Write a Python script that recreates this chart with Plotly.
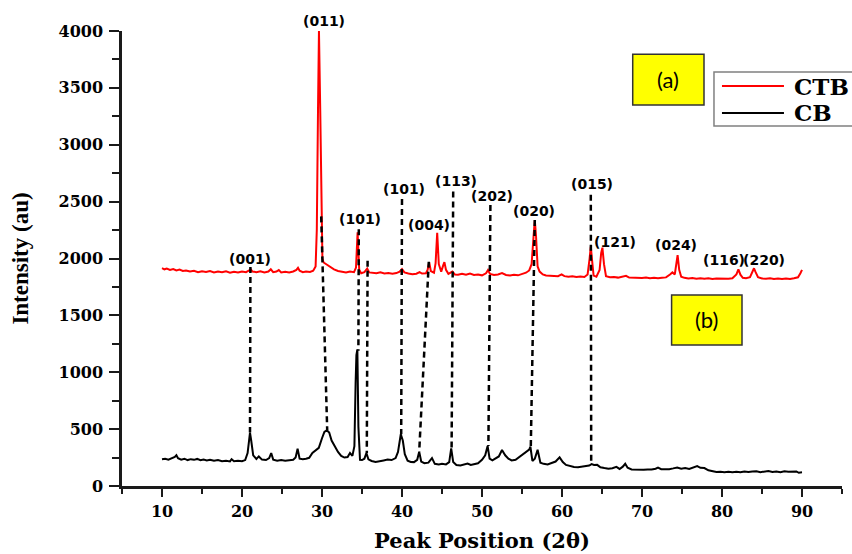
import plotly.graph_objects as go

# ---------------- data ----------------
ctb_x = [10.0, 10.3, 10.6, 11.0, 11.4, 11.8, 12.2, 12.6, 13.0, 13.5, 14.0, 14.5, 15.0, 15.5, 16.0, 16.5,
         17.0, 17.5, 18.0, 18.5, 19.0, 19.5, 20.0, 20.5, 20.9, 21.1, 21.3, 21.8, 22.3, 22.8, 23.3, 23.6,
         23.9, 24.3, 24.6, 24.9, 25.4, 25.9, 26.4, 26.8, 27.0, 27.2, 27.6, 28.0, 28.5, 28.9, 29.2, 29.35,
         29.5, 29.62, 29.78, 29.92, 30.05, 30.2, 30.5, 31.0, 31.5, 32.0, 32.5, 33.0, 33.5, 34.0, 34.25, 34.45,
         34.65, 34.9, 35.3, 35.65, 35.9, 36.3, 36.8, 37.3, 37.8, 38.3, 38.8, 39.3, 39.7, 40.0, 40.3, 40.8,
         41.3, 41.8, 42.2, 42.5, 43.0, 43.2, 43.4, 43.6, 44.0, 44.2, 44.4, 44.6, 44.9, 45.15, 45.3, 45.5,
         45.8, 46.3, 46.6, 47.0, 47.5, 48.0, 48.5, 49.0, 49.5, 50.0, 50.5, 50.75, 51.0, 51.5, 52.0, 52.5,
         53.0, 53.5, 54.0, 54.5, 55.0, 55.5, 55.9, 56.2, 56.45, 56.6, 56.75, 56.95, 57.2, 57.6, 58.0, 58.5,
         59.0, 59.5, 59.95, 60.3, 60.8, 61.3, 61.8, 62.3, 62.8, 63.2, 63.45, 63.6, 63.75, 63.95, 64.3, 64.7,
         64.9, 65.05, 65.25, 65.5, 66.0, 66.5, 67.0, 67.5, 68.0, 68.4, 69.0, 69.5, 70.0, 70.5, 71.0, 71.5,
         72.0, 72.5, 73.0, 73.5, 73.8, 74.1, 74.3, 74.45, 74.65, 74.9, 75.3, 75.8, 76.3, 76.8, 77.3, 77.8,
         78.3, 78.8, 79.3, 79.8, 80.3, 80.8, 81.3, 81.8, 82.05, 82.3, 82.6, 83.0, 83.5, 83.8, 84.0, 84.2,
         84.5, 85.0, 85.5, 86.0, 86.5, 87.0, 87.5, 88.0, 88.5, 89.0, 89.5, 89.8, 90.0]
ctb_y = [1915, 1905, 1912, 1900, 1908, 1895, 1902, 1890, 1895, 1885, 1892, 1880, 1888, 1882, 1890, 1878,
         1885, 1880, 1887, 1876, 1884, 1878, 1886, 1880, 1895, 1905, 1885, 1880, 1888, 1878, 1885, 1905,
         1880, 1885, 1898, 1878, 1884, 1878, 1886, 1900, 1918, 1892, 1880, 1886, 1882, 1892, 1930, 2250,
         3300, 4000, 3300, 2300, 2000, 1965, 1950, 1925, 1905, 1890, 1882, 1878, 1885, 1880, 1920, 2230,
         1900, 1870, 1880, 1912, 1878, 1875, 1870, 1878, 1868, 1872, 1866, 1872, 1885, 1908, 1878, 1868,
         1862, 1866, 1880, 1868, 1870, 1900, 1968, 1890, 1875, 1960, 2225, 1950, 1885, 1940, 1968, 1900,
         1865, 1885, 1860, 1858, 1865, 1857, 1868, 1856, 1860, 1852, 1870, 1898, 1865, 1855, 1860, 1872,
         1855, 1850, 1856, 1852, 1862, 1875, 1895, 1950, 2200, 2338, 2200, 1930, 1885, 1860, 1850, 1848,
         1852, 1845, 1860, 1845, 1840, 1844, 1838, 1842, 1838, 1860, 2000, 2105, 1990, 1850, 1840, 1900,
         2050, 2095, 1950, 1845, 1836, 1838, 1832, 1838, 1848, 1832, 1830, 1834, 1828, 1832, 1826, 1830,
         1826, 1830, 1834, 1860, 1878, 1860, 1960, 2030, 1900, 1840, 1830, 1824, 1828, 1822, 1826, 1822,
         1826, 1820, 1824, 1822, 1826, 1822, 1826, 1860, 1905, 1858, 1830, 1826, 1835, 1890, 1914, 1880,
         1835, 1825, 1822, 1826, 1820, 1824, 1820, 1825, 1820, 1826, 1835, 1870, 1900]

cb_x = [10.0, 10.4, 10.8, 11.2, 11.6, 11.8, 12.0, 12.4, 12.8, 13.2, 13.6, 14.0, 14.4, 14.8, 15.2, 15.6,
        16.0, 16.5, 17.0, 17.5, 18.0, 18.5, 18.7, 19.0, 19.5, 20.0, 20.4, 20.7, 20.9, 21.0, 21.15, 21.4,
        21.8, 22.1, 22.5, 23.0, 23.4, 23.65, 23.9, 24.4, 24.9, 25.4, 25.9, 26.4, 26.7, 26.95, 27.2, 27.6,
        28.0, 28.4, 28.8, 29.2, 29.6, 30.0, 30.3, 30.6, 30.9, 31.2, 31.6, 32.0, 32.4, 32.8, 33.2, 33.5,
        33.8, 34.05, 34.2, 34.3, 34.42, 34.55, 34.75, 35.0, 35.3, 35.55, 35.8, 36.2, 36.7, 37.2, 37.7, 38.2,
        38.7, 39.2, 39.5, 39.85, 40.1, 40.35, 40.7, 41.1, 41.5, 41.9, 42.15, 42.4, 42.8, 43.3, 43.75, 44.1,
        44.6, 45.0, 45.5, 45.9, 46.15, 46.4, 46.8, 47.3, 47.8, 48.2, 48.6, 49.0, 49.5, 50.0, 50.4, 50.7,
        50.95, 51.3, 51.7, 52.1, 52.5, 52.9, 53.3, 53.7, 54.2, 54.7, 55.2, 55.6, 55.9, 56.05, 56.3, 56.6,
        56.95, 57.3, 57.7, 58.2, 58.7, 59.2, 59.7, 60.1, 60.5, 61.0, 61.5, 62.0, 62.5, 63.0, 63.4, 63.7,
        64.0, 64.4, 64.8, 65.3, 65.8, 66.3, 66.8, 67.2, 67.6, 67.9, 68.2, 68.7, 69.2, 69.7, 70.2, 70.7,
        71.2, 71.7, 72.0, 72.4, 72.9, 73.4, 73.9, 74.4, 74.9, 75.4, 75.9, 76.4, 76.9, 77.3, 77.8, 78.3,
        78.8, 79.3, 79.8, 80.3, 80.8, 81.3, 81.8, 82.3, 82.8, 83.3, 83.8, 84.3, 84.8, 85.3, 85.8, 86.3,
        86.8, 87.3, 87.8, 88.3, 88.8, 89.3, 89.6, 90.0]
cb_y = [235, 240, 232, 245, 255, 270, 245, 232, 240, 228, 236, 230, 238, 226, 232, 225,
        230, 222, 228, 218, 222, 216, 235, 218, 222, 218, 228, 290, 420, 470, 400, 270,
        238, 260, 232, 228, 245, 290, 232, 222, 228, 222, 226, 230, 250, 328, 240, 236,
        240, 248, 290, 310, 335, 420, 475, 490, 470, 400, 345, 300, 265, 250, 255, 290,
        265, 350, 900, 1150, 1200, 520, 230, 228, 240, 290, 235, 220, 212, 216, 225, 232,
        228, 245, 300, 455, 400, 280, 222, 212, 210, 230, 302, 215, 200, 205, 245, 195,
        190, 196, 190, 210, 330, 210, 185, 180, 188, 198, 185, 190, 200, 230, 270, 352,
        240, 225, 245, 260, 316, 270, 240, 225, 230, 255, 285, 300, 320, 345, 220, 240,
        318, 205, 195, 190, 200, 215, 252, 210, 185, 175, 168, 165, 168, 172, 180, 192,
        185, 186, 165, 158, 152, 156, 168, 150, 170, 195, 160, 146, 144, 148, 142, 146,
        145, 152, 162, 148, 146, 148, 155, 163, 152, 158, 150, 160, 175, 160, 158, 138,
        128, 124, 126, 122, 126, 120, 126, 122, 128, 124, 128, 130, 122, 126, 132, 124,
        128, 122, 130, 126, 124, 128, 116, 120]

# guide lines linking CTB reflections to CB reflections
guide_x_top = [21.05, 29.9, 34.6, 35.7, 40.0, 43.35, 46.4, 51.05, 56.6, 63.6]
guide_y_top = [1925, 2370, 2257, 1980, 2523, 1972, 2590, 2470, 2338, 2560]
guide_x_bot = [21.0, 30.65, 34.55, 35.6, 39.9, 42.15, 46.2, 50.8, 56.1, 63.65]
guide_y_bot = [470, 490, 1190, 290, 455, 302, 330, 352, 345, 190]

# Miller index labels (anchored at the bottom of the text)
hkl_text = ["(001)", "(011)", "(101)", "(101)", "(004)", "(113)", "(202)", "(020)", "(015)",
            "(121)", "(024)", "(116)", "(220)"]
hkl_x = [21.0, 30.25, 34.8, 40.3, 43.4, 46.7, 51.3, 56.5, 63.7, 66.6, 74.3, 80.2, 85.25]
hkl_y = [1910, 3998, 2255, 2522, 2211, 2592, 2460, 2328, 2571, 2059, 2035, 1898, 1898]

series_names = ["CTB", "CB"]
series_colors = ["#ff0000", "black"]
x_ticks = [10, 20, 30, 40, 50, 60, 70, 80, 90]
y_ticks = [0, 500, 1000, 1500, 2000, 2500, 3000, 3500, 4000]

# ---------------- figure ----------------
fig = go.Figure()

fig.add_trace(go.Scatter(x=cb_x, y=cb_y, mode="lines", name=series_names[1], showlegend=False,
                         line=dict(color=series_colors[1], width=2)))
fig.add_trace(go.Scatter(x=ctb_x, y=ctb_y, mode="lines", name=series_names[0], showlegend=False,
                         line=dict(color=series_colors[0], width=2)))

for xt, yt, xb, yb in zip(guide_x_top, guide_y_top, guide_x_bot, guide_y_bot):
    fig.add_trace(go.Scatter(x=[xt, xb], y=[yt, yb], mode="lines", showlegend=False,
                             line=dict(color="black", width=2.5, dash="6px,4px"),
                             hoverinfo="skip"))

for t, x, y in zip(hkl_text, hkl_x, hkl_y):
    fig.add_annotation(x=x, y=y, text=t, showarrow=False, yanchor="bottom",
                       font=dict(family="DejaVu Sans", size=14, weight="bold", color="black"))

# (a) and (b) boxes
box_font = dict(family="Lato", size=22, color="black")
fig.add_shape(type="rect", x0=68.84, x1=77.75, y0=3349, y1=3795,
              fillcolor="#ffff00", line=dict(color="#333333", width=1.5), layer="above")
fig.add_annotation(x=73.3, y=3572, text="(a)", showarrow=False, font=box_font)
fig.add_shape(type="rect", x0=73.7, x1=82.5, y0=1240, y1=1679,
              fillcolor="#ffff00", line=dict(color="#333333", width=1.5), layer="above")
fig.add_annotation(x=78.1, y=1460, text="(b)", showarrow=False, font=box_font)

# legend box (drawn in paper coordinates)
fig.add_shape(type="rect", xref="paper", yref="paper", x0=0.8222, x1=1.03, y0=0.7912, y1=0.9099,
              fillcolor="white", line=dict(color="#808080", width=1.5), layer="above")
legend_rows_y = [0.8791, 0.8198]
for name, col, ly in zip(series_names, series_colors, legend_rows_y):
    fig.add_shape(type="line", xref="paper", yref="paper", x0=0.8333, x1=0.9194, y0=ly, y1=ly,
                  line=dict(color=col, width=2), layer="above")
    fig.add_annotation(xref="paper", yref="paper", x=0.9306, y=ly, xanchor="left", yanchor="middle",
                       text=name, showarrow=False,
                       font=dict(family="DejaVu Serif", size=23, weight="bold", color="black"))

tick_font = dict(family="DejaVu Serif", size=16, weight="bold", color="black")

fig.update_layout(
    width=852, height=554,
    margin=dict(l=122, r=10, t=31, b=68),
    paper_bgcolor="white", plot_bgcolor="white",
    showlegend=False,
    xaxis=dict(range=[5, 95], tickmode="array", tickvals=x_ticks,
               ticktext=[str(v) for v in x_ticks], automargin=False,
               showline=True, linecolor="#1a1a1a", linewidth=2.5, mirror=False,
               ticks="outside", ticklen=8, tickwidth=2, tickcolor="#1a1a1a",
               minor=dict(dtick=5, tick0=5, ticks="outside", ticklen=5, tickwidth=2, tickcolor="#1a1a1a"),
               showgrid=False, zeroline=False, tickfont=tick_font, ticklabelstandoff=1,
               title=dict(text="Peak Position (2θ)", standoff=14,
                          font=dict(family="DejaVu Serif", size=21, weight="bold", color="black"))),
    yaxis=dict(range=[0, 4000], tickmode="array", tickvals=y_ticks,
               ticktext=[str(v) for v in y_ticks], automargin=False,
               showline=True, linecolor="#1a1a1a", linewidth=2.5, mirror=False,
               ticks="outside", ticklen=10, tickwidth=2, tickcolor="#1a1a1a",
               minor=dict(dtick=250, tick0=0, ticks="outside", ticklen=7, tickwidth=2, tickcolor="#1a1a1a"),
               showgrid=False, zeroline=False, tickfont=tick_font, ticklabelstandoff=3,
               title=dict(text="Intensity (au)", standoff=24,
                          font=dict(family="Liberation Serif", size=23, weight="bold", color="black"))),
)

fig.write_html("out.html", config={"displayModeBar": False},
               post_script="document.body.style.margin='0px';document.body.style.overflow='hidden';")
